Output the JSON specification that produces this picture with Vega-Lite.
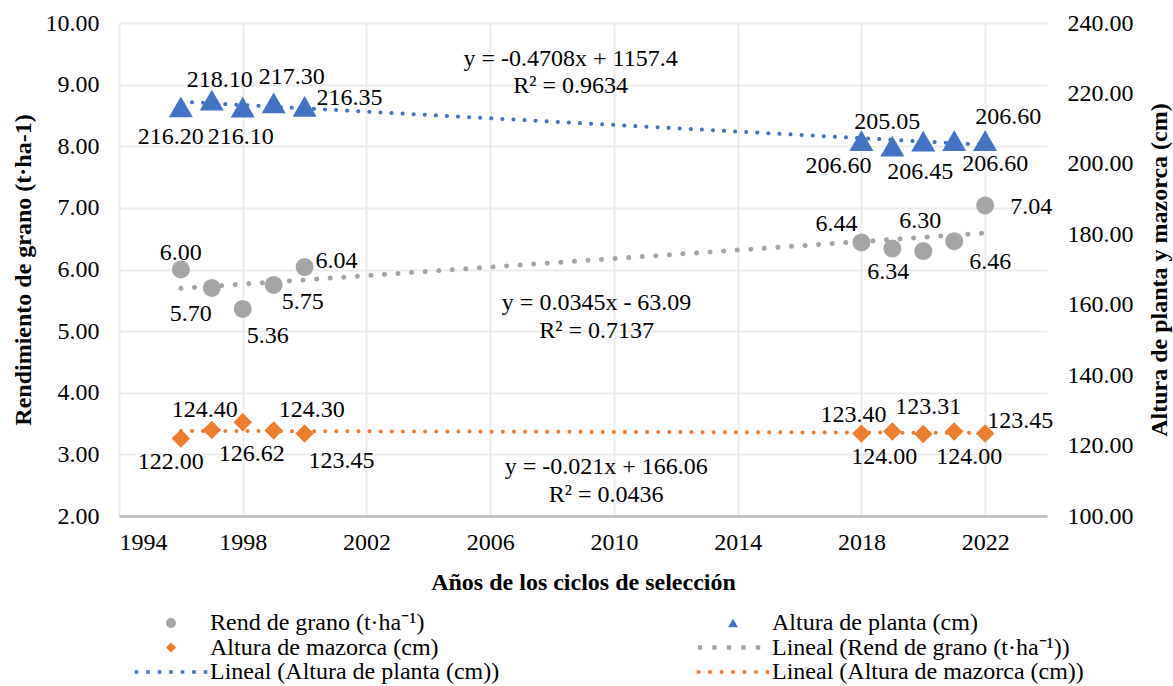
{
  "$schema": "https://vega.github.io/schema/vega-lite/v6.json",
  "width": 928,
  "height": 493,
  "autosize": {"type": "none"},
  "padding": {"left": 119, "top": 23, "right": 126, "bottom": 170},
  "background": "white",
  "config": {
    "font": "Liberation Serif",
    "view": {"stroke": null},
    "axis": {
      "labelFont": "Liberation Serif", "labelFontSize": 24, "labelColor": "#000",
      "titleFont": "Liberation Serif", "titleFontSize": 24, "titleFontWeight": "bold", "titleColor": "#000",
      "ticks": false, "domain": false, "gridColor": "#EBEBEB", "gridWidth": 2
    },
    "text": {"font": "Liberation Serif", "fontSize": 24, "color": "#000"}
  },
  "data": {"values": [
    {"year": 1996, "k": "g", "serie": "Rend de grano (t·ha⁻¹)", "v": 6.00},
    {"year": 1997, "k": "g", "serie": "Rend de grano (t·ha⁻¹)", "v": 5.70},
    {"year": 1998, "k": "g", "serie": "Rend de grano (t·ha⁻¹)", "v": 5.36},
    {"year": 1999, "k": "g", "serie": "Rend de grano (t·ha⁻¹)", "v": 5.75},
    {"year": 2000, "k": "g", "serie": "Rend de grano (t·ha⁻¹)", "v": 6.04},
    {"year": 2018, "k": "g", "serie": "Rend de grano (t·ha⁻¹)", "v": 6.44},
    {"year": 2019, "k": "g", "serie": "Rend de grano (t·ha⁻¹)", "v": 6.34},
    {"year": 2020, "k": "g", "serie": "Rend de grano (t·ha⁻¹)", "v": 6.30},
    {"year": 2021, "k": "g", "serie": "Rend de grano (t·ha⁻¹)", "v": 6.46},
    {"year": 2022, "k": "g", "serie": "Rend de grano (t·ha⁻¹)", "v": 7.04},
    {"year": 1996, "k": "p", "serie": "Altura de planta (cm)", "v": 216.20},
    {"year": 1997, "k": "p", "serie": "Altura de planta (cm)", "v": 218.10},
    {"year": 1998, "k": "p", "serie": "Altura de planta (cm)", "v": 216.10},
    {"year": 1999, "k": "p", "serie": "Altura de planta (cm)", "v": 217.30},
    {"year": 2000, "k": "p", "serie": "Altura de planta (cm)", "v": 216.35},
    {"year": 2018, "k": "p", "serie": "Altura de planta (cm)", "v": 206.60},
    {"year": 2019, "k": "p", "serie": "Altura de planta (cm)", "v": 205.05},
    {"year": 2020, "k": "p", "serie": "Altura de planta (cm)", "v": 206.45},
    {"year": 2021, "k": "p", "serie": "Altura de planta (cm)", "v": 206.60},
    {"year": 2022, "k": "p", "serie": "Altura de planta (cm)", "v": 206.60},
    {"year": 1996, "k": "m", "serie": "Altura de mazorca (cm)", "v": 122.00},
    {"year": 1997, "k": "m", "serie": "Altura de mazorca (cm)", "v": 124.40},
    {"year": 1998, "k": "m", "serie": "Altura de mazorca (cm)", "v": 126.62},
    {"year": 1999, "k": "m", "serie": "Altura de mazorca (cm)", "v": 124.30},
    {"year": 2000, "k": "m", "serie": "Altura de mazorca (cm)", "v": 123.45},
    {"year": 2018, "k": "m", "serie": "Altura de mazorca (cm)", "v": 123.40},
    {"year": 2019, "k": "m", "serie": "Altura de mazorca (cm)", "v": 124.00},
    {"year": 2020, "k": "m", "serie": "Altura de mazorca (cm)", "v": 123.31},
    {"year": 2021, "k": "m", "serie": "Altura de mazorca (cm)", "v": 124.00},
    {"year": 2022, "k": "m", "serie": "Altura de mazorca (cm)", "v": 123.45}
  ]},
  "encoding": {
    "x": {"field": "year", "type": "quantitative",
      "scale": {"domain": [1994, 2024], "nice": false, "zero": false},
      "axis": {"values": [1994, 1998, 2002, 2006, 2010, 2014, 2018, 2022], "format": "d",
        "title": "Años de los ciclos de selección", "labelPadding": 14, "titlePadding": 16,
        "labelFont": "Liberation Serif", "labelFontSize": 24, "labelColor": "#000",
        "titleFont": "Liberation Serif", "titleFontSize": 24, "titleFontWeight": "bold", "titleColor": "#000",
        "grid": true, "gridColor": "#EBEBEB", "gridWidth": 2, "ticks": false,
        "domain": true, "domainColor": "#C4C4C4", "domainWidth": 3}}
  },
  "layer": [
    {
      "encoding": {
        "y": {"field": "v", "type": "quantitative",
          "scale": {"domain": [2, 10], "nice": false, "zero": false},
          "axis": {"values": [2, 3, 4, 5, 6, 7, 8, 9, 10], "format": ".2f",
            "labelFont": "Liberation Serif", "labelFontSize": 24, "labelColor": "#000",
            "titleFont": "Liberation Serif", "titleFontSize": 24, "titleFontWeight": "bold", "titleColor": "#000",
            "ticks": false, "domain": false, "gridColor": "#EBEBEB", "gridWidth": 2,
            "title": "Rendimiento de grano (t·ha-1)", "labelPadding": 20, "titlePadding": 10, "grid": true}}
      },
      "layer": [
        {"transform": [{"filter": "datum.k=='g'"}, {"regression": "v", "on": "year", "extent": [1996, 2022]}],
          "mark": {"type": "line", "color": "#A5A5A5", "strokeWidth": 5, "strokeCap": "round", "strokeDash": [0.1, 13.5]}},
        {"transform": [{"filter": "datum.k=='g'"}],
          "mark": {"type": "point", "filled": true, "opacity": 1, "size": 324},
          "encoding": {
            "color": {"field": "serie", "type": "nominal",
              "scale": {"domain": ["Rend de grano (t·ha⁻¹)", "Altura de mazorca (cm)", "Lineal (Altura de planta (cm))", "Altura de planta (cm)", "Lineal (Rend de grano (t·ha⁻¹))", "Lineal (Altura de mazorca (cm))"],
                "range": ["#A5A5A5", "#ED7D31", "#4472C4", "#4472C4", "#A5A5A5", "#ED7D31"]},
              "legend": {"title": null, "orient": "none", "legendX": 40, "legendY": 588, "columns": 2, "columnPadding": 196, "rowPadding": 0.5,
                "symbolSize": 100, "labelOffset": 27, "labelFont": "Liberation Serif", "labelFontSize": 24, "labelColor": "#000",
                "labelLimit": 600, "symbolStrokeWidth": 0, "padding": 0}},
            "shape": {"field": "serie", "type": "nominal",
              "scale": {"domain": ["Rend de grano (t·ha⁻¹)", "Altura de mazorca (cm)", "Lineal (Altura de planta (cm))", "Altura de planta (cm)", "Lineal (Rend de grano (t·ha⁻¹))", "Lineal (Altura de mazorca (cm))"],
                "range": ["circle", "diamond",
                  "M-7.26,-0.36h0.72v0.72h-0.72zM-4.96,-0.36h0.72v0.72h-0.72zM-2.66,-0.36h0.72v0.72h-0.72zM-0.36,-0.36h0.72v0.72h-0.72zM1.94,-0.36h0.72v0.72h-0.72zM4.24,-0.36h0.72v0.72h-0.72zM6.54,-0.36h0.72v0.72h-0.72z",
                  "triangle-up",
                  "M-7.04,-0.44h0.88v0.88h-0.88zM-4.14,-0.44h0.88v0.88h-0.88zM-1.24,-0.44h0.88v0.88h-0.88zM1.66,-0.44h0.88v0.88h-0.88zM4.56,-0.44h0.88v0.88h-0.88z",
                  "M-7.26,-0.36h0.72v0.72h-0.72zM-4.96,-0.36h0.72v0.72h-0.72zM-2.66,-0.36h0.72v0.72h-0.72zM-0.36,-0.36h0.72v0.72h-0.72zM1.94,-0.36h0.72v0.72h-0.72zM4.24,-0.36h0.72v0.72h-0.72zM6.54,-0.36h0.72v0.72h-0.72z"]},
              "legend": {"title": null, "orient": "none", "legendX": 40, "legendY": 588, "columns": 2, "columnPadding": 196, "rowPadding": 0.5,
                "symbolSize": 100, "labelOffset": 27, "labelFont": "Liberation Serif", "labelFontSize": 24, "labelColor": "#000",
                "labelLimit": 600, "symbolStrokeWidth": 0, "padding": 0}}
          }},
        {"transform": [{"filter": "datum.k=='g'&&datum.year==1996"}], "mark": {"type": "text", "font": "Liberation Serif", "fontSize": 24, "dx": 0, "dy": -17}, "encoding": {"text": {"field": "v", "type": "quantitative", "format": ".2f"}}},
        {"transform": [{"filter": "datum.k=='g'&&datum.year==1997"}], "mark": {"type": "text", "font": "Liberation Serif", "fontSize": 24, "dx": -21, "dy": 26}, "encoding": {"text": {"field": "v", "type": "quantitative", "format": ".2f"}}},
        {"transform": [{"filter": "datum.k=='g'&&datum.year==1998"}], "mark": {"type": "text", "font": "Liberation Serif", "fontSize": 24, "dx": 25, "dy": 27}, "encoding": {"text": {"field": "v", "type": "quantitative", "format": ".2f"}}},
        {"transform": [{"filter": "datum.k=='g'&&datum.year==1999"}], "mark": {"type": "text", "font": "Liberation Serif", "fontSize": 24, "dx": 29, "dy": 17}, "encoding": {"text": {"field": "v", "type": "quantitative", "format": ".2f"}}},
        {"transform": [{"filter": "datum.k=='g'&&datum.year==2000"}], "mark": {"type": "text", "font": "Liberation Serif", "fontSize": 24, "dx": 32, "dy": -6}, "encoding": {"text": {"field": "v", "type": "quantitative", "format": ".2f"}}},
        {"transform": [{"filter": "datum.k=='g'&&datum.year==2018"}], "mark": {"type": "text", "font": "Liberation Serif", "fontSize": 24, "dx": -25, "dy": -18}, "encoding": {"text": {"field": "v", "type": "quantitative", "format": ".2f"}}},
        {"transform": [{"filter": "datum.k=='g'&&datum.year==2019"}], "mark": {"type": "text", "font": "Liberation Serif", "fontSize": 24, "dx": -4, "dy": 23}, "encoding": {"text": {"field": "v", "type": "quantitative", "format": ".2f"}}},
        {"transform": [{"filter": "datum.k=='g'&&datum.year==2020"}], "mark": {"type": "text", "font": "Liberation Serif", "fontSize": 24, "dx": -3, "dy": -30}, "encoding": {"text": {"field": "v", "type": "quantitative", "format": ".2f"}}},
        {"transform": [{"filter": "datum.k=='g'&&datum.year==2021"}], "mark": {"type": "text", "font": "Liberation Serif", "fontSize": 24, "dx": 36, "dy": 21}, "encoding": {"text": {"field": "v", "type": "quantitative", "format": ".2f"}}},
        {"transform": [{"filter": "datum.k=='g'&&datum.year==2022"}], "mark": {"type": "text", "font": "Liberation Serif", "fontSize": 24, "dx": 46, "dy": 2}, "encoding": {"text": {"field": "v", "type": "quantitative", "format": ".2f"}}},
        {"transform": [{"filter": "datum.k=='g'"}, {"regression": "v", "on": "year", "extent": [2009.44, 2009.44]}, {"aggregate": [{"op": "mean", "field": "v", "as": "v"}], "groupby": ["year"]}],
          "mark": {"type": "text", "font": "Liberation Serif", "fontSize": 24, "color": "#000", "dy": 43, "text": "y = 0.0345x - 63.09"}},
        {"transform": [{"filter": "datum.k=='g'"}, {"regression": "v", "on": "year", "extent": [2009.44, 2009.44]}, {"aggregate": [{"op": "mean", "field": "v", "as": "v"}], "groupby": ["year"]}],
          "mark": {"type": "text", "font": "Liberation Serif", "fontSize": 24, "color": "#000", "dy": 71, "text": "R² = 0.7137"}}
      ]
    },
    {
      "encoding": {
        "y": {"field": "v", "type": "quantitative",
          "scale": {"domain": [100, 240], "nice": false, "zero": false},
          "axis": {"orient": "right", "values": [100, 120, 140, 160, 180, 200, 220, 240], "format": ".2f",
            "labelFont": "Liberation Serif", "labelFontSize": 24, "labelColor": "#000",
            "titleFont": "Liberation Serif", "titleFontSize": 24, "titleFontWeight": "bold", "titleColor": "#000",
            "ticks": false, "domain": false,
            "title": "Altura de planta y mazorca (cm)", "titleAngle": 270, "titleBaseline": "top", "labelPadding": 20, "titlePadding": 14, "grid": false}}
      },
      "layer": [
        {"transform": [{"filter": "datum.k=='m'"}, {"regression": "v", "on": "year", "extent": [1996, 2022]}],
          "mark": {"type": "line", "color": "#ED7D31", "strokeWidth": 4, "strokeCap": "round", "strokeDash": [0.1, 11]}},
        {"transform": [{"filter": "datum.k=='p'"}, {"regression": "v", "on": "year", "extent": [1996, 2022]}],
          "mark": {"type": "line", "color": "#4472C4", "strokeWidth": 4, "strokeCap": "round", "strokeDash": [0.1, 11]}},
        {"transform": [{"filter": "datum.k=='m'"}],
          "mark": {"type": "point", "filled": true, "opacity": 1, "size": 340},
          "encoding": {"color": {"field": "serie", "type": "nominal"}, "shape": {"field": "serie", "type": "nominal"}}},
        {"transform": [{"filter": "datum.k=='p'"}],
          "mark": {"type": "point", "filled": true, "opacity": 1, "size": 576},
          "encoding": {"color": {"field": "serie", "type": "nominal"}, "shape": {"field": "serie", "type": "nominal"}}},
        {"transform": [{"filter": "datum.k=='p'"}, {"regression": "v", "on": "year", "extent": [2008.6, 2008.6]}, {"aggregate": [{"op": "mean", "field": "v", "as": "v"}], "groupby": ["year"]}],
          "mark": {"type": "text", "font": "Liberation Serif", "fontSize": 24, "color": "#000", "dy": -64, "text": "y = -0.4708x + 1157.4"}},
        {"transform": [{"filter": "datum.k=='p'"}, {"regression": "v", "on": "year", "extent": [2008.6, 2008.6]}, {"aggregate": [{"op": "mean", "field": "v", "as": "v"}], "groupby": ["year"]}],
          "mark": {"type": "text", "font": "Liberation Serif", "fontSize": 24, "color": "#000", "dy": -37, "text": "R² = 0.9634"}},
        {"transform": [{"filter": "datum.k=='m'"}, {"regression": "v", "on": "year", "extent": [2009.75, 2009.75]}, {"aggregate": [{"op": "mean", "field": "v", "as": "v"}], "groupby": ["year"]}],
          "mark": {"type": "text", "font": "Liberation Serif", "fontSize": 24, "color": "#000", "dy": 35, "text": "y = -0.021x + 166.06"}},
        {"transform": [{"filter": "datum.k=='m'"}, {"regression": "v", "on": "year", "extent": [2009.75, 2009.75]}, {"aggregate": [{"op": "mean", "field": "v", "as": "v"}], "groupby": ["year"]}],
          "mark": {"type": "text", "font": "Liberation Serif", "fontSize": 24, "color": "#000", "dy": 63, "text": "R² = 0.0436"}},
        {"transform": [{"filter": "datum.k=='p'&&datum.year==1996"}], "mark": {"type": "text", "font": "Liberation Serif", "fontSize": 24, "dx": -10, "dy": 30}, "encoding": {"text": {"field": "v", "type": "quantitative", "format": ".2f"}}},
        {"transform": [{"filter": "datum.k=='p'&&datum.year==1997"}], "mark": {"type": "text", "font": "Liberation Serif", "fontSize": 24, "dx": 8, "dy": -20}, "encoding": {"text": {"field": "v", "type": "quantitative", "format": ".2f"}}},
        {"transform": [{"filter": "datum.k=='p'&&datum.year==1998"}], "mark": {"type": "text", "font": "Liberation Serif", "fontSize": 24, "dx": -2, "dy": 30}, "encoding": {"text": {"field": "v", "type": "quantitative", "format": ".2f"}}},
        {"transform": [{"filter": "datum.k=='p'&&datum.year==1999"}], "mark": {"type": "text", "font": "Liberation Serif", "fontSize": 24, "dx": 18, "dy": -26}, "encoding": {"text": {"field": "v", "type": "quantitative", "format": ".2f"}}},
        {"transform": [{"filter": "datum.k=='p'&&datum.year==2000"}], "mark": {"type": "text", "font": "Liberation Serif", "fontSize": 24, "dx": 45, "dy": -8}, "encoding": {"text": {"field": "v", "type": "quantitative", "format": ".2f"}}},
        {"transform": [{"filter": "datum.k=='p'&&datum.year==2018"}], "mark": {"type": "text", "font": "Liberation Serif", "fontSize": 24, "dx": -23, "dy": 25}, "encoding": {"text": {"field": "v", "type": "quantitative", "format": ".2f"}}},
        {"transform": [{"filter": "datum.k=='p'&&datum.year==2019"}], "mark": {"type": "text", "font": "Liberation Serif", "fontSize": 24, "dx": -5, "dy": -24}, "encoding": {"text": {"field": "v", "type": "quantitative", "format": ".2f"}}},
        {"transform": [{"filter": "datum.k=='p'&&datum.year==2020"}], "mark": {"type": "text", "font": "Liberation Serif", "fontSize": 24, "dx": -3, "dy": 31}, "encoding": {"text": {"field": "v", "type": "quantitative", "format": ".2f"}}},
        {"transform": [{"filter": "datum.k=='p'&&datum.year==2021"}], "mark": {"type": "text", "font": "Liberation Serif", "fontSize": 24, "dx": 41, "dy": 23}, "encoding": {"text": {"field": "v", "type": "quantitative", "format": ".2f"}}},
        {"transform": [{"filter": "datum.k=='p'&&datum.year==2022"}], "mark": {"type": "text", "font": "Liberation Serif", "fontSize": 24, "dx": 23, "dy": -24}, "encoding": {"text": {"field": "v", "type": "quantitative", "format": ".2f"}}},
        {"transform": [{"filter": "datum.k=='m'&&datum.year==1996"}], "mark": {"type": "text", "font": "Liberation Serif", "fontSize": 24, "dx": -10, "dy": 23}, "encoding": {"text": {"field": "v", "type": "quantitative", "format": ".2f"}}},
        {"transform": [{"filter": "datum.k=='m'&&datum.year==1997"}], "mark": {"type": "text", "font": "Liberation Serif", "fontSize": 24, "dx": -7, "dy": -20}, "encoding": {"text": {"field": "v", "type": "quantitative", "format": ".2f"}}},
        {"transform": [{"filter": "datum.k=='m'&&datum.year==1998"}], "mark": {"type": "text", "font": "Liberation Serif", "fontSize": 24, "dx": 9, "dy": 32}, "encoding": {"text": {"field": "v", "type": "quantitative", "format": ".2f"}}},
        {"transform": [{"filter": "datum.k=='m'&&datum.year==1999"}], "mark": {"type": "text", "font": "Liberation Serif", "fontSize": 24, "dx": 38, "dy": -20}, "encoding": {"text": {"field": "v", "type": "quantitative", "format": ".2f"}}},
        {"transform": [{"filter": "datum.k=='m'&&datum.year==2000"}], "mark": {"type": "text", "font": "Liberation Serif", "fontSize": 24, "dx": 37, "dy": 28}, "encoding": {"text": {"field": "v", "type": "quantitative", "format": ".2f"}}},
        {"transform": [{"filter": "datum.k=='m'&&datum.year==2018"}], "mark": {"type": "text", "font": "Liberation Serif", "fontSize": 24, "dx": -8, "dy": -19}, "encoding": {"text": {"field": "v", "type": "quantitative", "format": ".2f"}}},
        {"transform": [{"filter": "datum.k=='m'&&datum.year==2019"}], "mark": {"type": "text", "font": "Liberation Serif", "fontSize": 24, "dx": -8, "dy": 26}, "encoding": {"text": {"field": "v", "type": "quantitative", "format": ".2f"}}},
        {"transform": [{"filter": "datum.k=='m'&&datum.year==2020"}], "mark": {"type": "text", "font": "Liberation Serif", "fontSize": 24, "dx": 5, "dy": -27}, "encoding": {"text": {"field": "v", "type": "quantitative", "format": ".2f"}}},
        {"transform": [{"filter": "datum.k=='m'&&datum.year==2021"}], "mark": {"type": "text", "font": "Liberation Serif", "fontSize": 24, "dx": 15, "dy": 26}, "encoding": {"text": {"field": "v", "type": "quantitative", "format": ".2f"}}},
        {"transform": [{"filter": "datum.k=='m'&&datum.year==2022"}], "mark": {"type": "text", "font": "Liberation Serif", "fontSize": 24, "dx": 35, "dy": -12}, "encoding": {"text": {"field": "v", "type": "quantitative", "format": ".2f"}}}
      ]
    }
  ],
  "resolve": {"scale": {"y": "independent"}}
}
